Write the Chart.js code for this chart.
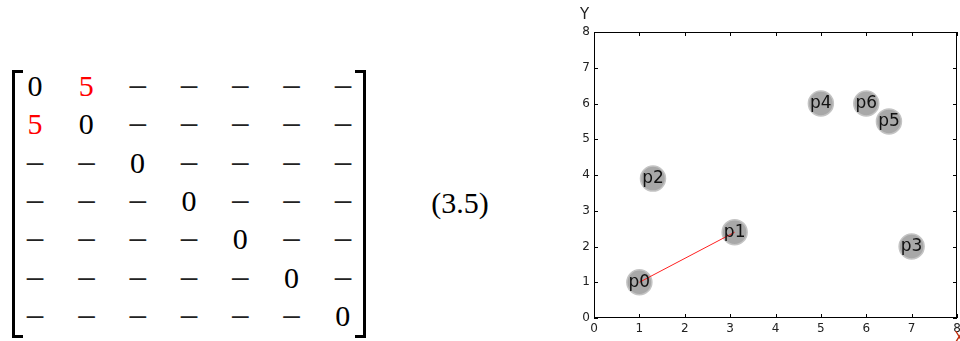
<!DOCTYPE html>
<html>
<head>
<meta charset="utf-8">
<script src="https://cdn.jsdelivr.net/npm/chart.js@4"></script>
<style>
  body { margin: 0; background: #fff; width: 960px; height: 341px; overflow: hidden; position: relative; }
  .cell { position: absolute; font-family: "Liberation Serif", serif; font-size: 30px; line-height: 30px; width: 40px; text-align: center; color: #000; }
  .dash { font-size: 36px; color: #222; }
  .red { color: #ff0000; }
  .brk { position: absolute; border: 0 solid #000; }
  #eq { position: absolute; left: 400px; top: 188px; width: 120px; text-align: center; font-family: "Liberation Serif", serif; font-size: 30px; line-height: 30px; }
  #chartBox { position: absolute; left: 560px; top: 0; width: 411px; height: 341px; }
  .axlab { position: absolute; font-family: "DejaVu Sans", sans-serif; font-size: 15px; color: #222; }
</style>
</head>
<body>
<div id="matrix"></div>
<div class="brk" style="left:12px;top:70px;width:8px;height:262px;border-left-width:3px;border-top-width:3px;border-bottom-width:3px;"></div>
<div class="brk" style="left:355px;top:70px;width:8px;height:262px;border-right-width:3px;border-top-width:3px;border-bottom-width:3px;"></div>
<div id="eq">(3.5)</div>
<div id="chartBox"><canvas id="chartCanvas"></canvas></div>
<div class="axlab" style="left:580px;top:5px;">Y</div>
<div class="axlab" style="left:954px;top:329px;color:#c03010;">X</div>
<script>
// distance matrix shown on the left ("-" = unknown)
const matrixRows = [
  ["0", "5", "-", "-", "-", "-", "-"],
  ["5", "0", "-", "-", "-", "-", "-"],
  ["-", "-", "0", "-", "-", "-", "-"],
  ["-", "-", "-", "0", "-", "-", "-"],
  ["-", "-", "-", "-", "0", "-", "-"],
  ["-", "-", "-", "-", "-", "0", "-"],
  ["-", "-", "-", "-", "-", "-", "0"]
];
const redCells = ["0,1", "1,0"];

// scatter points
const pointNames = ["p0", "p1", "p2", "p3", "p4", "p5", "p6"];
const pointX = [1, 3.1, 1.3, 7, 5, 6.5, 6];
const pointY = [1, 2.4, 3.9, 2, 6, 5.5, 6];

// red segment between p0 and p1
const linkFrom = 0;
const linkTo = 1;

const axisTicks = [0, 1, 2, 3, 4, 5, 6, 7, 8];

// build the matrix
const matrix = document.getElementById("matrix");
matrixRows.forEach((row, r) => {
  row.forEach((val, c) => {
    const s = document.createElement("span");
    const isDash = val === "-";
    s.className = "cell" + (isDash ? " dash" : "") + (redCells.includes(r + "," + c) ? " red" : "");
    s.textContent = isDash ? "\u2212" : val;
    s.style.left = (35 + c * 51.3 - 20) + "px";
    s.style.top = (86 + r * 38.3 - 15 + (isDash ? 1 : 0)) + "px";
    matrix.appendChild(s);
  });
});

const pts = pointX.map((x, i) => ({ x: x, y: pointY[i] }));

const frame = {
  id: "frame",
  afterDatasetsDraw(c) {
    const ctx = c.ctx;
    const a = c.chartArea;
    const xs = c.scales.x, ys = c.scales.y;
    ctx.save();
    // labels on the circles
    const meta = c.getDatasetMeta(1);
    ctx.fillStyle = "#111";
    ctx.font = "17px 'DejaVu Sans'";
    ctx.textAlign = "center";
    ctx.textBaseline = "middle";
    meta.data.forEach((el, i) => ctx.fillText(pointNames[i], el.x, el.y));
    // box + inward ticks
    ctx.strokeStyle = "#000";
    ctx.lineWidth = 1;
    ctx.strokeRect(a.left + 0.5, a.top + 0.5, a.right - a.left - 1, a.bottom - a.top - 1);
    ctx.beginPath();
    axisTicks.forEach(t => {
      const px = Math.round(xs.getPixelForValue(t)) + 0.5;
      ctx.moveTo(px, a.bottom); ctx.lineTo(px, a.bottom - 4);
      ctx.moveTo(px, a.top); ctx.lineTo(px, a.top + 4);
      const py = Math.round(ys.getPixelForValue(t)) + 0.5;
      ctx.moveTo(a.left, py); ctx.lineTo(a.left + 4, py);
      ctx.moveTo(a.right, py); ctx.lineTo(a.right - 4, py);
    });
    ctx.stroke();
    ctx.restore();
  }
};

new Chart(document.getElementById("chartCanvas"), {
  type: "scatter",
  data: {
    datasets: [
      {
        data: [pts[linkFrom], pts[linkTo]],
        showLine: true,
        borderColor: "#ff2020",
        borderWidth: 1,
        pointRadius: 0
      },
      {
        data: pts,
        pointRadius: 12.5,
        pointBackgroundColor: "#a8a8a8",
        pointBorderColor: "#c4c4c4",
        pointBorderWidth: 1.5
      }
    ]
  },
  options: {
    responsive: true,
    maintainAspectRatio: false,
    animation: false,
    layout: { padding: { top: 32, right: 3, left: 0, bottom: 0 } },
    plugins: { legend: { display: false }, tooltip: { enabled: false } },
    scales: {
      x: {
        min: 0, max: 8,
        afterFit: s => { s.height = 23; },
        afterBuildTicks: s => { s.ticks = axisTicks.map(v => ({ value: v })); },
        grid: { drawOnChartArea: false, drawTicks: false },
        border: { display: false },
        ticks: { padding: 4, color: "#222", font: { family: "DejaVu Sans", size: 12 } }
      },
      y: {
        min: 0, max: 8,
        afterFit: s => { s.width = 34; },
        afterBuildTicks: s => { s.ticks = axisTicks.map(v => ({ value: v })); },
        grid: { drawOnChartArea: false, drawTicks: false },
        border: { display: false },
        ticks: { padding: 4, color: "#222", font: { family: "DejaVu Sans", size: 12 } }
      }
    }
  },
  plugins: [frame]
});
</script>
</body>
</html>
